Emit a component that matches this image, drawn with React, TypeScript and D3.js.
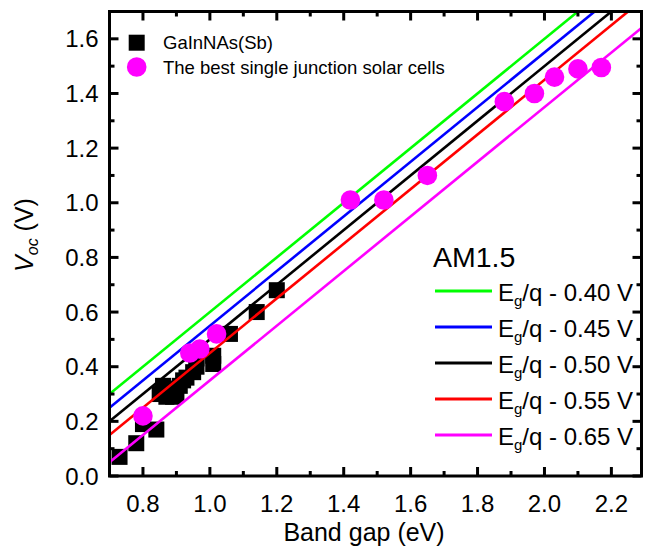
import React from "react";
import * as d3 from "d3";

const W = 645;
const H = 556;

// GaInNAs(Sb) data (band gap eV, Voc V)
const gainnasEg = [0.73, 0.78, 0.80, 0.84, 0.85, 0.87, 0.86, 0.88, 0.89, 0.90, 0.91, 0.92, 0.93, 0.95, 0.96, 0.96, 1.01, 1.01, 1.06, 1.14, 1.20];
const gainnasVoc = [0.07, 0.12, 0.19, 0.17, 0.30, 0.29, 0.33, 0.32, 0.29, 0.30, 0.33, 0.35, 0.36, 0.38, 0.40, 0.43, 0.41, 0.44, 0.52, 0.60, 0.68];

// Best single-junction solar cells
const bestEg = [0.80, 0.94, 0.97, 1.02, 1.42, 1.52, 1.65, 1.88, 1.97, 2.03, 2.10, 2.17];
const bestVoc = [0.22, 0.45, 0.465, 0.52, 1.01, 1.01, 1.10, 1.37, 1.40, 1.46, 1.49, 1.495];

// Reference lines Voc = Eg/q - offset
const offsets = [0.40, 0.45, 0.50, 0.55, 0.65];
const offsetLabels = ["0.40", "0.45", "0.50", "0.55", "0.65"];
const lineColors = ["#00ff00", "#0000ff", "#000000", "#ff0000", "#ff00ff"];

const xMajorTicks = [0.8, 1.0, 1.2, 1.4, 1.6, 1.8, 2.0, 2.2];
const xMinorTicks = [0.9, 1.1, 1.3, 1.5, 1.7, 1.9, 2.1];
const yMajorTicks = [0.0, 0.2, 0.4, 0.6, 0.8, 1.0, 1.2, 1.4, 1.6];
const yMinorTicks = [0.1, 0.3, 0.5, 0.7, 0.9, 1.1, 1.3, 1.5];

const xDomain: [number, number] = [0.7, 2.29];
const yDomain: [number, number] = [0, 1.7];

const FONT = "'Liberation Sans', Arial, Helvetica, sans-serif";

export default function App() {
  const left = 109.5;
  const right = 641.5;
  const top = 11.5;
  const bottom = 476;
  const x = d3.scaleLinear().domain(xDomain).range([left, right]);
  const y = d3.scaleLinear().domain(yDomain).range([bottom, top]);

  const lineGen = d3
    .line<[number, number]>()
    .x((d) => x(d[0]))
    .y((d) => y(d[1]));

  const maj = 9;
  const min = 5;
  const sq = 16;
  const r = 9.8;

  const legendRows = [291, 327, 363, 399, 435];

  return (
    <svg
      width={W}
      height={H}
      style={{ position: "absolute", left: 0, top: 0, background: "#fff" }}
      fontFamily={FONT}
    >
      <defs>
        <clipPath id="plotClip">
          <rect x={left} y={top} width={right - left} height={bottom - top} />
        </clipPath>
      </defs>
      <rect x={0} y={0} width={W} height={H} fill="#fff" />

      {/* GaInNAs squares */}
      <g clipPath="url(#plotClip)">
        {gainnasEg.map((e, i) => (
          <rect
            key={"s" + i}
            x={x(e) - sq / 2}
            y={y(gainnasVoc[i]) - sq / 2}
            width={sq}
            height={sq}
            fill="#000"
          />
        ))}
      </g>

      {/* reference lines */}
      <g clipPath="url(#plotClip)">
        {offsets.map((o, i) => (
          <path
            key={"l" + i}
            d={lineGen([
              [xDomain[0], xDomain[0] - o],
              [xDomain[1], xDomain[1] - o],
            ]) || ""}
            stroke={lineColors[i]}
            strokeWidth={2.6}
            fill="none"
          />
        ))}
      </g>

      {/* best cells circles */}
      <g clipPath="url(#plotClip)">
        {bestEg.map((e, i) => (
          <circle key={"c" + i} cx={x(e)} cy={y(bestVoc[i])} r={r} fill="#ff00ff" />
        ))}
      </g>

      {/* frame */}
      <rect
        x={left}
        y={top}
        width={right - left}
        height={bottom - top}
        fill="none"
        stroke="#000"
        strokeWidth={3}
      />

      {/* x ticks */}
      {xMajorTicks.map((t) => (
        <g key={"xm" + t}>
          <line x1={x(t)} x2={x(t)} y1={bottom} y2={bottom - maj} stroke="#000" strokeWidth={3} />
          <line x1={x(t)} x2={x(t)} y1={top} y2={top + maj} stroke="#000" strokeWidth={3} />
          <text x={x(t)} y={511.5} fontSize={24} textAnchor="middle" fill="#000">
            {t.toFixed(1)}
          </text>
        </g>
      ))}
      {xMinorTicks.map((t) => (
        <g key={"xn" + t}>
          <line x1={x(t)} x2={x(t)} y1={bottom} y2={bottom - min} stroke="#000" strokeWidth={3} />
          <line x1={x(t)} x2={x(t)} y1={top} y2={top + min} stroke="#000" strokeWidth={3} />
        </g>
      ))}

      {/* y ticks */}
      {yMajorTicks.map((t) => (
        <g key={"ym" + t}>
          <line x1={left} x2={left + maj} y1={y(t)} y2={y(t)} stroke="#000" strokeWidth={3} />
          <line x1={right} x2={right - maj} y1={y(t)} y2={y(t)} stroke="#000" strokeWidth={3} />
          <text x={98.5} y={y(t) + 8.5} fontSize={24} textAnchor="end" fill="#000">
            {t.toFixed(1)}
          </text>
        </g>
      ))}
      {yMinorTicks.map((t) => (
        <g key={"yn" + t}>
          <line x1={left} x2={left + min} y1={y(t)} y2={y(t)} stroke="#000" strokeWidth={3} />
          <line x1={right} x2={right - min} y1={y(t)} y2={y(t)} stroke="#000" strokeWidth={3} />
        </g>
      ))}

      {/* axis titles */}
      <text x={364} y={541} fontSize={25} textAnchor="middle" fill="#000">
        Band gap (eV)
      </text>
      <text
        transform="translate(33,235) rotate(-90)"
        fontSize={25}
        textAnchor="middle"
        fill="#000"
      >
        <tspan fontStyle="italic">V</tspan>
        <tspan fontStyle="italic" fontSize={16} dy={5}>oc</tspan>
        <tspan dy={-5}> (V)</tspan>
      </text>

      {/* top-left legend */}
      <rect x={136.7 - 8} y={42.7 - 8} width={16} height={16} fill="#000" />
      <text x={163} y={49} fontSize={18.5} fill="#000">GaInNAs(Sb)</text>
      <circle cx={136.7} cy={67} r={r} fill="#ff00ff" />
      <text x={163} y={74} fontSize={18.5} fill="#000">The best single junction solar cells</text>

      {/* right legend */}
      <text x={433} y={267} fontSize={28.5} fill="#000">AM1.5</text>
      {offsets.map((o, i) => (
        <g key={"lg" + i}>
          <line
            x1={435}
            x2={492}
            y1={legendRows[i]}
            y2={legendRows[i]}
            stroke={lineColors[i]}
            strokeWidth={3}
          />
          <text x={498} y={legendRows[i] + 9.5} fontSize={24} fill="#000">
            E
            <tspan fontSize={15} dy={5}>g</tspan>
            <tspan dy={-5}>/q - {offsetLabels[i]} V</tspan>
          </text>
        </g>
      ))}
    </svg>
  );
}
